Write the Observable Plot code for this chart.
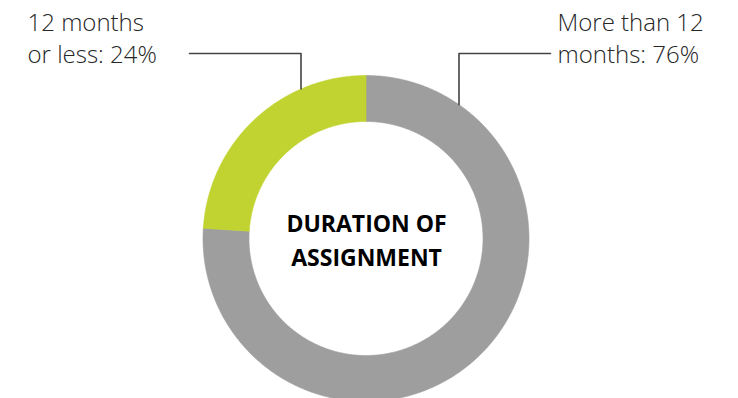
<!DOCTYPE html>
<html><head><meta charset="utf-8">
<script src="https://cdn.jsdelivr.net/npm/d3@7"></script>
<script src="https://cdn.jsdelivr.net/npm/@observablehq/plot@0.6"></script>
<style>
html,body{margin:0;padding:0;background:#fff}#chart svg{display:block}
g[aria-label="center-title"] text{letter-spacing:1.1px}
g[aria-label="slice-labels"] text{letter-spacing:0.8px}
</style>
</head><body><div id="chart"></div>
<script>
// ---- data ----
const categories = ["More than 12 months", "12 months or less"];
const values = [76, 24];
const labelLines = [["More than 12", "months: 76%"], ["12 months", "or less: 24%"]];
const centerTitle = ["DURATION OF", "ASSIGNMENT"];
const colors = ["#9d9e9d", "#c1d331"];

// ---- layout ----
const W = 738, H = 398;
const cx = 365.5, cy = 238, rOuter = 163, rInner = 117;

const arcs = d3.pie().sort(null).value(d => d.value)(categories.map((c, i) => ({category: c, value: values[i]})));

// polygon outline of each ring slice (angle 0 = 12 o'clock, clockwise)
function ringPoints(a) {
  const pts = [];
  const n = Math.max(8, Math.ceil((a.endAngle - a.startAngle) / (Math.PI / 360)));
  for (let k = 0; k <= n; k++) {
    const t = a.startAngle + (a.endAngle - a.startAngle) * k / n;
    pts.push({x: cx + rOuter * Math.sin(t), y: cy - rOuter * Math.cos(t)});
  }
  for (let k = n; k >= 0; k--) {
    const t = a.startAngle + (a.endAngle - a.startAngle) * k / n;
    pts.push({x: cx + rInner * Math.sin(t), y: cy - rInner * Math.cos(t)});
  }
  pts.push(pts[0]);
  return pts;
}

// leader lines: horizontal from label, then vertical down onto the ring edge
function leader(xLabel, xRing, yTop) {
  const yRing = cy - Math.sqrt(rOuter * rOuter - (xRing - cx) ** 2);
  return [{x: xLabel, y: yTop}, {x: xRing, y: yTop}, {x: xRing, y: yRing}];
}
const leaders = [leader(550, 458.5, 53), leader(189, 300.5, 53)];

const labelText = [
  {x: 557, y: 22.5, t: labelLines[0][0]},
  {x: 557, y: 54.5, t: labelLines[0][1]},
  {x: 27, y: 22.5, t: labelLines[1][0]},
  {x: 27, y: 54.5, t: labelLines[1][1]}
];
const centerText = [
  {x: cx + 0.55, y: 224, t: centerTitle[0]},
  {x: cx + 0.55, y: 258, t: centerTitle[1]}
];

const chart = Plot.plot({
  width: W, height: H, margin: 0,
  x: {domain: [0, W], range: [0, W], axis: null},
  y: {domain: [0, H], range: [0, H], axis: null},
  style: {background: "#fff"},
  marks: [
    ...arcs.map((a, i) => Plot.line(ringPoints(a), {x: "x", y: "y", fill: colors[i], stroke: colors[i], strokeWidth: 0.6, curve: "linear"})),
    ...leaders.map(l => Plot.line(l, {x: "x", y: "y", stroke: "#444", strokeWidth: 1.6, curve: "linear"})),
    Plot.text(labelText, {x: "x", y: "y", text: "t", textAnchor: "start", lineAnchor: "middle", fontSize: 24, fill: "#262626", fontFamily: "Open Sans", fontWeight: 300, ariaLabel: "slice-labels"}),
    Plot.text(centerText, {x: "x", y: "y", text: "t", textAnchor: "middle", lineAnchor: "middle", fontSize: 23, fill: "#000", fontFamily: "Open Sans", fontWeight: 700, ariaLabel: "center-title"})
  ]
});
document.getElementById("chart").append(chart);
</script>
</body></html>
